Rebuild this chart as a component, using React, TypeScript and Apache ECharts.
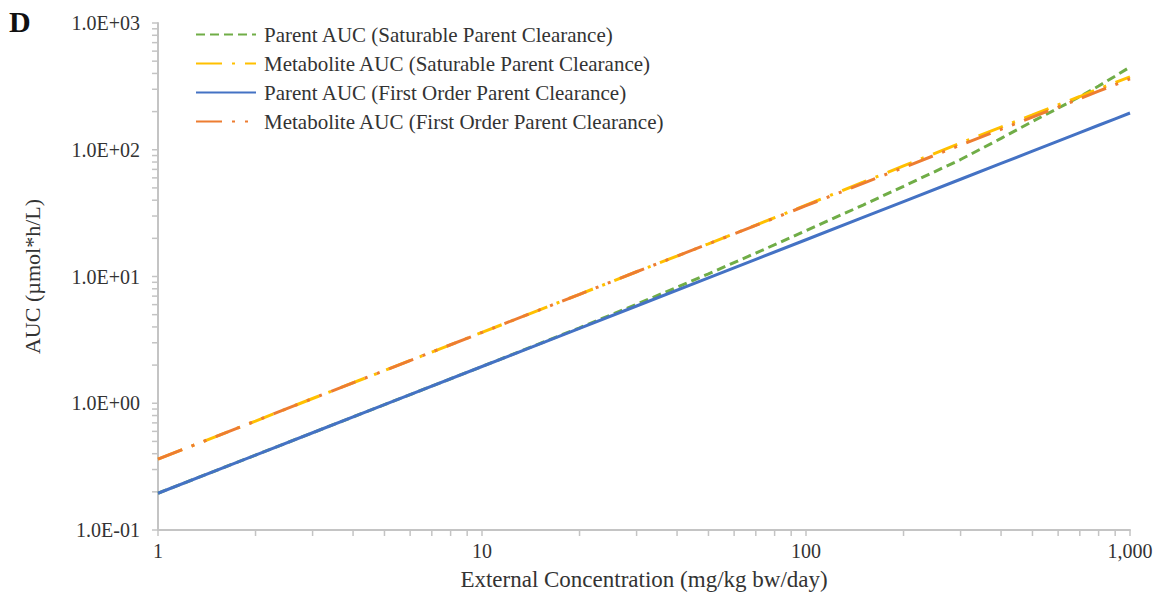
import { useEffect, useRef } from "react";
import * as echarts from "echarts";

// External concentration (mg/kg bw/day)
const doses = [1, 2, 3, 5, 10, 20, 30, 50, 70, 100, 150, 200, 300, 400, 500, 600, 700, 800, 900, 1000];
// AUC (µmol*h/L)
const parentSat = [0.195, 0.39, 0.585, 0.975, 1.95, 3.94, 6.03, 10.5, 15.3, 23.0, 36.6, 51.5, 83.7, 123, 167, 213, 262, 318, 381, 449];
const metabSat = [0.362, 0.724, 1.09, 1.81, 3.62, 7.24, 10.9, 18.1, 25.4, 36.6, 55.4, 74.6, 113, 151, 188, 226, 263, 302, 339, 376];
const parentFirst = [0.195, 0.39, 0.585, 0.975, 1.95, 3.9, 5.85, 9.75, 13.65, 19.5, 29.25, 39, 58.5, 78, 97.5, 117, 136.5, 156, 175.5, 195];
const metabFirst = [0.362, 0.724, 1.09, 1.81, 3.62, 7.24, 10.9, 18.1, 25.3, 36.2, 54.3, 72.4, 109, 145, 181, 217, 253, 290, 326, 362];

const seriesNames = [
  "Parent AUC (Saturable Parent Clearance)",
  "Metabolite AUC (Saturable Parent Clearance)",
  "Parent AUC (First Order Parent Clearance)",
  "Metabolite AUC (First Order Parent Clearance)",
];

const X_MIN = 1;
const X_MAX = 1000;
const Y_MIN = 0.1;
const Y_MAX = 1000;

// tick positions on log axes (decades and their 2..9 multiples)
const xTickValues = [1, 2, 3, 4, 5, 6, 7, 8, 9, 10, 20, 30, 40, 50, 60, 70, 80, 90, 100, 200, 300, 400, 500, 600, 700, 800, 900, 1000];
const yTickValues = [
  0.1, 0.2, 0.3, 0.4, 0.5, 0.6, 0.7, 0.8, 0.9,
  1, 2, 3, 4, 5, 6, 7, 8, 9,
  10, 20, 30, 40, 50, 60, 70, 80, 90,
  100, 200, 300, 400, 500, 600, 700, 800, 900, 1000,
];

const FONT = "'Liberation Serif', 'Times New Roman', serif";
const AXIS_COLOR = "#c4c4c4";
const TEXT_COLOR = "#333333";

function fmtSci(v: number): string {
  const e = Math.round(Math.log10(v));
  const m = v / Math.pow(10, e);
  const sign = e < 0 ? "-" : "+";
  return `${m.toFixed(1)}E${sign}${String(Math.abs(e)).padStart(2, "0")}`;
}

function fmtX(v: number): string {
  return Math.round(v).toLocaleString("en-US");
}

export default function App() {
  const ref = useRef<HTMLDivElement>(null);

  useEffect(() => {
    if (!ref.current) return;
    const chart = echarts.init(ref.current, undefined, { renderer: "svg" });

    const mk = (vals: number[]) => doses.map((d, i) => [d, vals[i]]);

    const option: any = {
      animation: false,
      backgroundColor: "#ffffff",
      grid: { left: 158, right: 38, top: 23, bottom: 70, containLabel: false },
      legend: {
        data: seriesNames,
        orient: "vertical",
        left: 195,
        top: 24,
        padding: 0,
        itemWidth: 60,
        itemHeight: 14,
        itemGap: 8,
        itemStyle: { opacity: 0 },
        textStyle: { fontFamily: FONT, fontSize: 21, color: TEXT_COLOR, padding: [0, 0, 0, 3] },
      },
      xAxis: {
        type: "log",
        logBase: 10,
        min: X_MIN,
        max: X_MAX,
        name: "External Concentration (mg/kg bw/day)",
        nameLocation: "middle",
        nameGap: 38,
        nameTextStyle: { fontFamily: FONT, fontSize: 23, color: TEXT_COLOR },
        axisLine: { show: true, lineStyle: { color: AXIS_COLOR, width: 2 } },
        axisTick: { show: false },
        splitLine: { show: false },
        axisLabel: {
          fontFamily: FONT,
          fontSize: 20,
          color: TEXT_COLOR,
          margin: 11,
          formatter: (v: number) => fmtX(v),
        },
      },
      yAxis: {
        type: "log",
        logBase: 10,
        min: Y_MIN,
        max: Y_MAX,
        name: "AUC (µmol*h/L)",
        nameLocation: "middle",
        nameGap: 115,
        nameRotate: 90,
        nameTextStyle: { fontFamily: FONT, fontSize: 22, color: TEXT_COLOR },
        axisLine: { show: true, lineStyle: { color: AXIS_COLOR, width: 2 } },
        axisTick: { show: false },
        splitLine: { show: false },
        axisLabel: {
          fontFamily: FONT,
          fontSize: 20,
          color: TEXT_COLOR,
          margin: 18,
          formatter: (v: number) => fmtSci(v),
        },
      },
      graphic: [
        {
          type: "text",
          left: 9,
          top: 6,
          style: {
            text: "D",
            fontFamily: FONT,
            fontWeight: "bold",
            fontSize: 30,
            fill: "#111",
          },
        },
      ],
      series: [
        {
          name: seriesNames[0],
          type: "line",
          data: mk(parentSat),
          showSymbol: false,
          symbol: "none",
          smooth: false,
          color: "#70AD47",
          lineStyle: { color: "#70AD47", width: 3, type: [9, 5] },
          z: 3,
        },
        {
          name: seriesNames[1],
          type: "line",
          data: mk(metabSat),
          showSymbol: false,
          symbol: "none",
          color: "#FFC000",
          lineStyle: { color: "#FFC000", width: 3, type: [26, 10, 3, 10] },
          z: 3,
        },
        {
          name: seriesNames[2],
          type: "line",
          data: mk(parentFirst),
          showSymbol: false,
          symbol: "none",
          color: "#4472C4",
          lineStyle: { color: "#4472C4", width: 3, type: "solid" },
          z: 3,
        },
        {
          name: seriesNames[3],
          type: "line",
          data: mk(metabFirst),
          showSymbol: false,
          symbol: "none",
          color: "#ED7D31",
          lineStyle: { color: "#ED7D31", width: 3, type: [26, 10, 3, 10, 3, 10] },
          z: 4,
        },
        {
          name: "xticks",
          type: "custom",
          silent: true,
          clip: false,
          data: xTickValues.map((v) => [v, Y_MIN]),
          renderItem: (_p: any, api: any) => {
            const pt = api.coord([api.value(0), Y_MIN]);
            return {
              type: "line",
              shape: { x1: pt[0], y1: pt[1], x2: pt[0], y2: pt[1] + 6 },
              style: { stroke: AXIS_COLOR, lineWidth: 1.5 },
            };
          },
          z: 1,
        },
        {
          name: "yticks",
          type: "custom",
          silent: true,
          clip: false,
          data: yTickValues.map((v) => [X_MIN, v]),
          renderItem: (_p: any, api: any) => {
            const pt = api.coord([X_MIN, api.value(1)]);
            return {
              type: "line",
              shape: { x1: pt[0] - 6, y1: pt[1], x2: pt[0], y2: pt[1] },
              style: { stroke: AXIS_COLOR, lineWidth: 1.5 },
            };
          },
          z: 1,
        },
      ],
    };

    chart.setOption(option);
    return () => chart.dispose();
  }, []);

  return (
    <div
      ref={ref}
      style={{ position: "fixed", left: 0, top: 0, width: 1168, height: 600, background: "#fff" }}
    />
  );
}
